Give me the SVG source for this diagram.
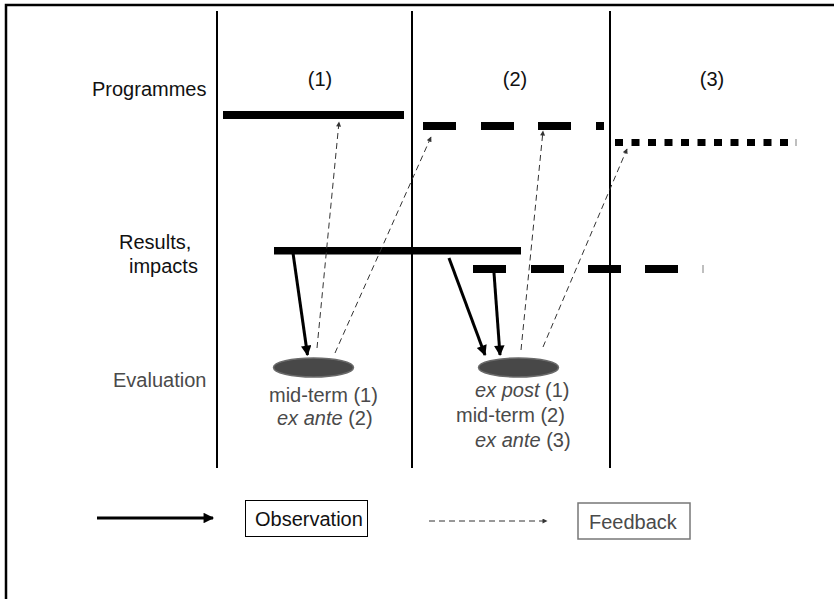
<svg xmlns="http://www.w3.org/2000/svg" width="834" height="599" viewBox="0 0 834 599">
<defs>
<style>
text{font-family:"Liberation Sans",Arial,sans-serif;font-size:20px}
.lbl{fill:#111}
.grey{fill:#4a4a4a}
.bar{fill:#000}
.div{stroke:#000;stroke-width:2;fill:none}
.obs{stroke:#000;stroke-width:3;fill:none;marker-end:url(#ah)}
.fb{stroke:#333;stroke-width:1;stroke-dasharray:6 4;fill:none;marker-end:url(#ahs)}
.ell{fill:#484848;stroke:#6a6a6a;stroke-width:1.5}
.tick{stroke:#aaa;stroke-width:1.5}
</style>
<marker id="ah" viewBox="0 0 10 10" refX="9" refY="5" markerWidth="4.5" markerHeight="3.5" orient="auto" markerUnits="strokeWidth">
<path d="M0,0 L10,5 L0,10 z" fill="#000"/>
</marker>
<marker id="ahs" viewBox="0 0 10 10" refX="9" refY="5" markerWidth="7" markerHeight="5" orient="auto" markerUnits="strokeWidth">
<path d="M0,0 L10,5 L0,10 z" fill="#333"/>
</marker>
</defs>
<rect width="834" height="599" fill="#fff"/>
<path d="M6,599 V5 H834" stroke="#000" stroke-width="2.5" fill="none"/>
<g id="dividers">
<line class="div" x1="217" y1="11" x2="217" y2="468"/>
<line class="div" x1="412" y1="11" x2="412" y2="468"/>
<line class="div" x1="610" y1="11" x2="610" y2="468"/>
</g>
<g id="row-labels">
<text class="lbl" x="92" y="96">Programmes</text>
<text class="lbl" x="119" y="249">Results,</text>
<text class="lbl" x="129" y="273">impacts</text>
<text class="grey" x="113" y="387">Evaluation</text>
</g>
<g id="period-labels">
<text class="lbl" x="320" y="86" text-anchor="middle">(1)</text>
<text class="lbl" x="515" y="86" text-anchor="middle">(2)</text>
<text class="lbl" x="712" y="86" text-anchor="middle">(3)</text>
</g>
<g id="programme-1"><rect class="bar" x="223" y="111" width="181" height="8"/></g>
<g id="programme-2">
<rect class="bar" x="423" y="122" width="33" height="8"/>
<rect class="bar" x="481" y="122" width="33" height="8"/>
<rect class="bar" x="538" y="122" width="33" height="8"/>
<rect class="bar" x="596" y="122" width="8" height="8"/>
</g>
<g id="programme-3">
<rect class="bar" x="615" y="139" width="8" height="7"/>
<rect class="bar" x="631.5" y="139" width="8" height="7"/>
<rect class="bar" x="648" y="139" width="8" height="7"/>
<rect class="bar" x="664.5" y="139" width="8" height="7"/>
<rect class="bar" x="681" y="139" width="8" height="7"/>
<rect class="bar" x="697.5" y="139" width="8" height="7"/>
<rect class="bar" x="714" y="139" width="8" height="7"/>
<rect class="bar" x="730.5" y="139" width="8" height="7"/>
<rect class="bar" x="747" y="139" width="8" height="7"/>
<rect class="bar" x="763.5" y="139" width="8" height="7"/>
<rect class="bar" x="780" y="139" width="8" height="7"/>
<line class="tick" x1="796" y1="139" x2="796" y2="146"/>
</g>
<g id="results-1"><rect class="bar" x="274" y="247" width="247" height="7.5"/></g>
<g id="results-2">
<rect class="bar" x="473" y="265" width="33" height="8"/>
<rect class="bar" x="531" y="265" width="33" height="8"/>
<rect class="bar" x="588" y="265" width="33" height="8"/>
<rect class="bar" x="645" y="265" width="33" height="8"/>
<line class="tick" x1="703" y1="265" x2="703" y2="273"/>
</g>
<g id="evaluation-1">
<ellipse class="ell" cx="313.5" cy="367.5" rx="40" ry="9.5"/>
<text class="grey" x="269" y="402">mid-term (1)</text>
<text class="grey" x="277" y="425"><tspan font-style="italic">ex ante</tspan> (2)</text>
</g>
<g id="evaluation-2">
<ellipse class="ell" cx="518.5" cy="367.5" rx="40" ry="9.5"/>
<text class="grey" x="475" y="397"><tspan font-style="italic">ex post</tspan> (1)</text>
<text class="grey" x="456" y="422">mid-term (2)</text>
<text class="grey" x="475" y="447"><tspan font-style="italic">ex ante</tspan> (3)</text>
</g>
<g id="connectors">
<line class="obs" x1="293" y1="253" x2="307.5" y2="355"/>
<line class="obs" x1="449" y1="258" x2="485" y2="355"/>
<line class="obs" x1="494" y1="273" x2="500" y2="355"/>
<line class="fb" x1="317" y1="348" x2="339" y2="122"/>
<line class="fb" x1="335" y1="353" x2="431" y2="137"/>
<line class="fb" x1="521" y1="350" x2="543" y2="131"/>
<line class="fb" x1="543" y1="347" x2="627" y2="149"/>
</g>
<g id="legend-observation">
<line class="obs" x1="97" y1="518" x2="213" y2="518"/>
<rect x="245.5" y="500.5" width="122" height="36" fill="#fff" stroke="#000" stroke-width="1"/>
<text class="lbl" x="255" y="526">Observation</text>
</g>
<g id="legend-feedback">
<line class="fb" x1="429" y1="521" x2="547" y2="521"/>
<rect x="578" y="503" width="112" height="36" fill="#fff" stroke="#777" stroke-width="1.5"/>
<text class="grey" x="589" y="529">Feedback</text>
</g>
</svg>
